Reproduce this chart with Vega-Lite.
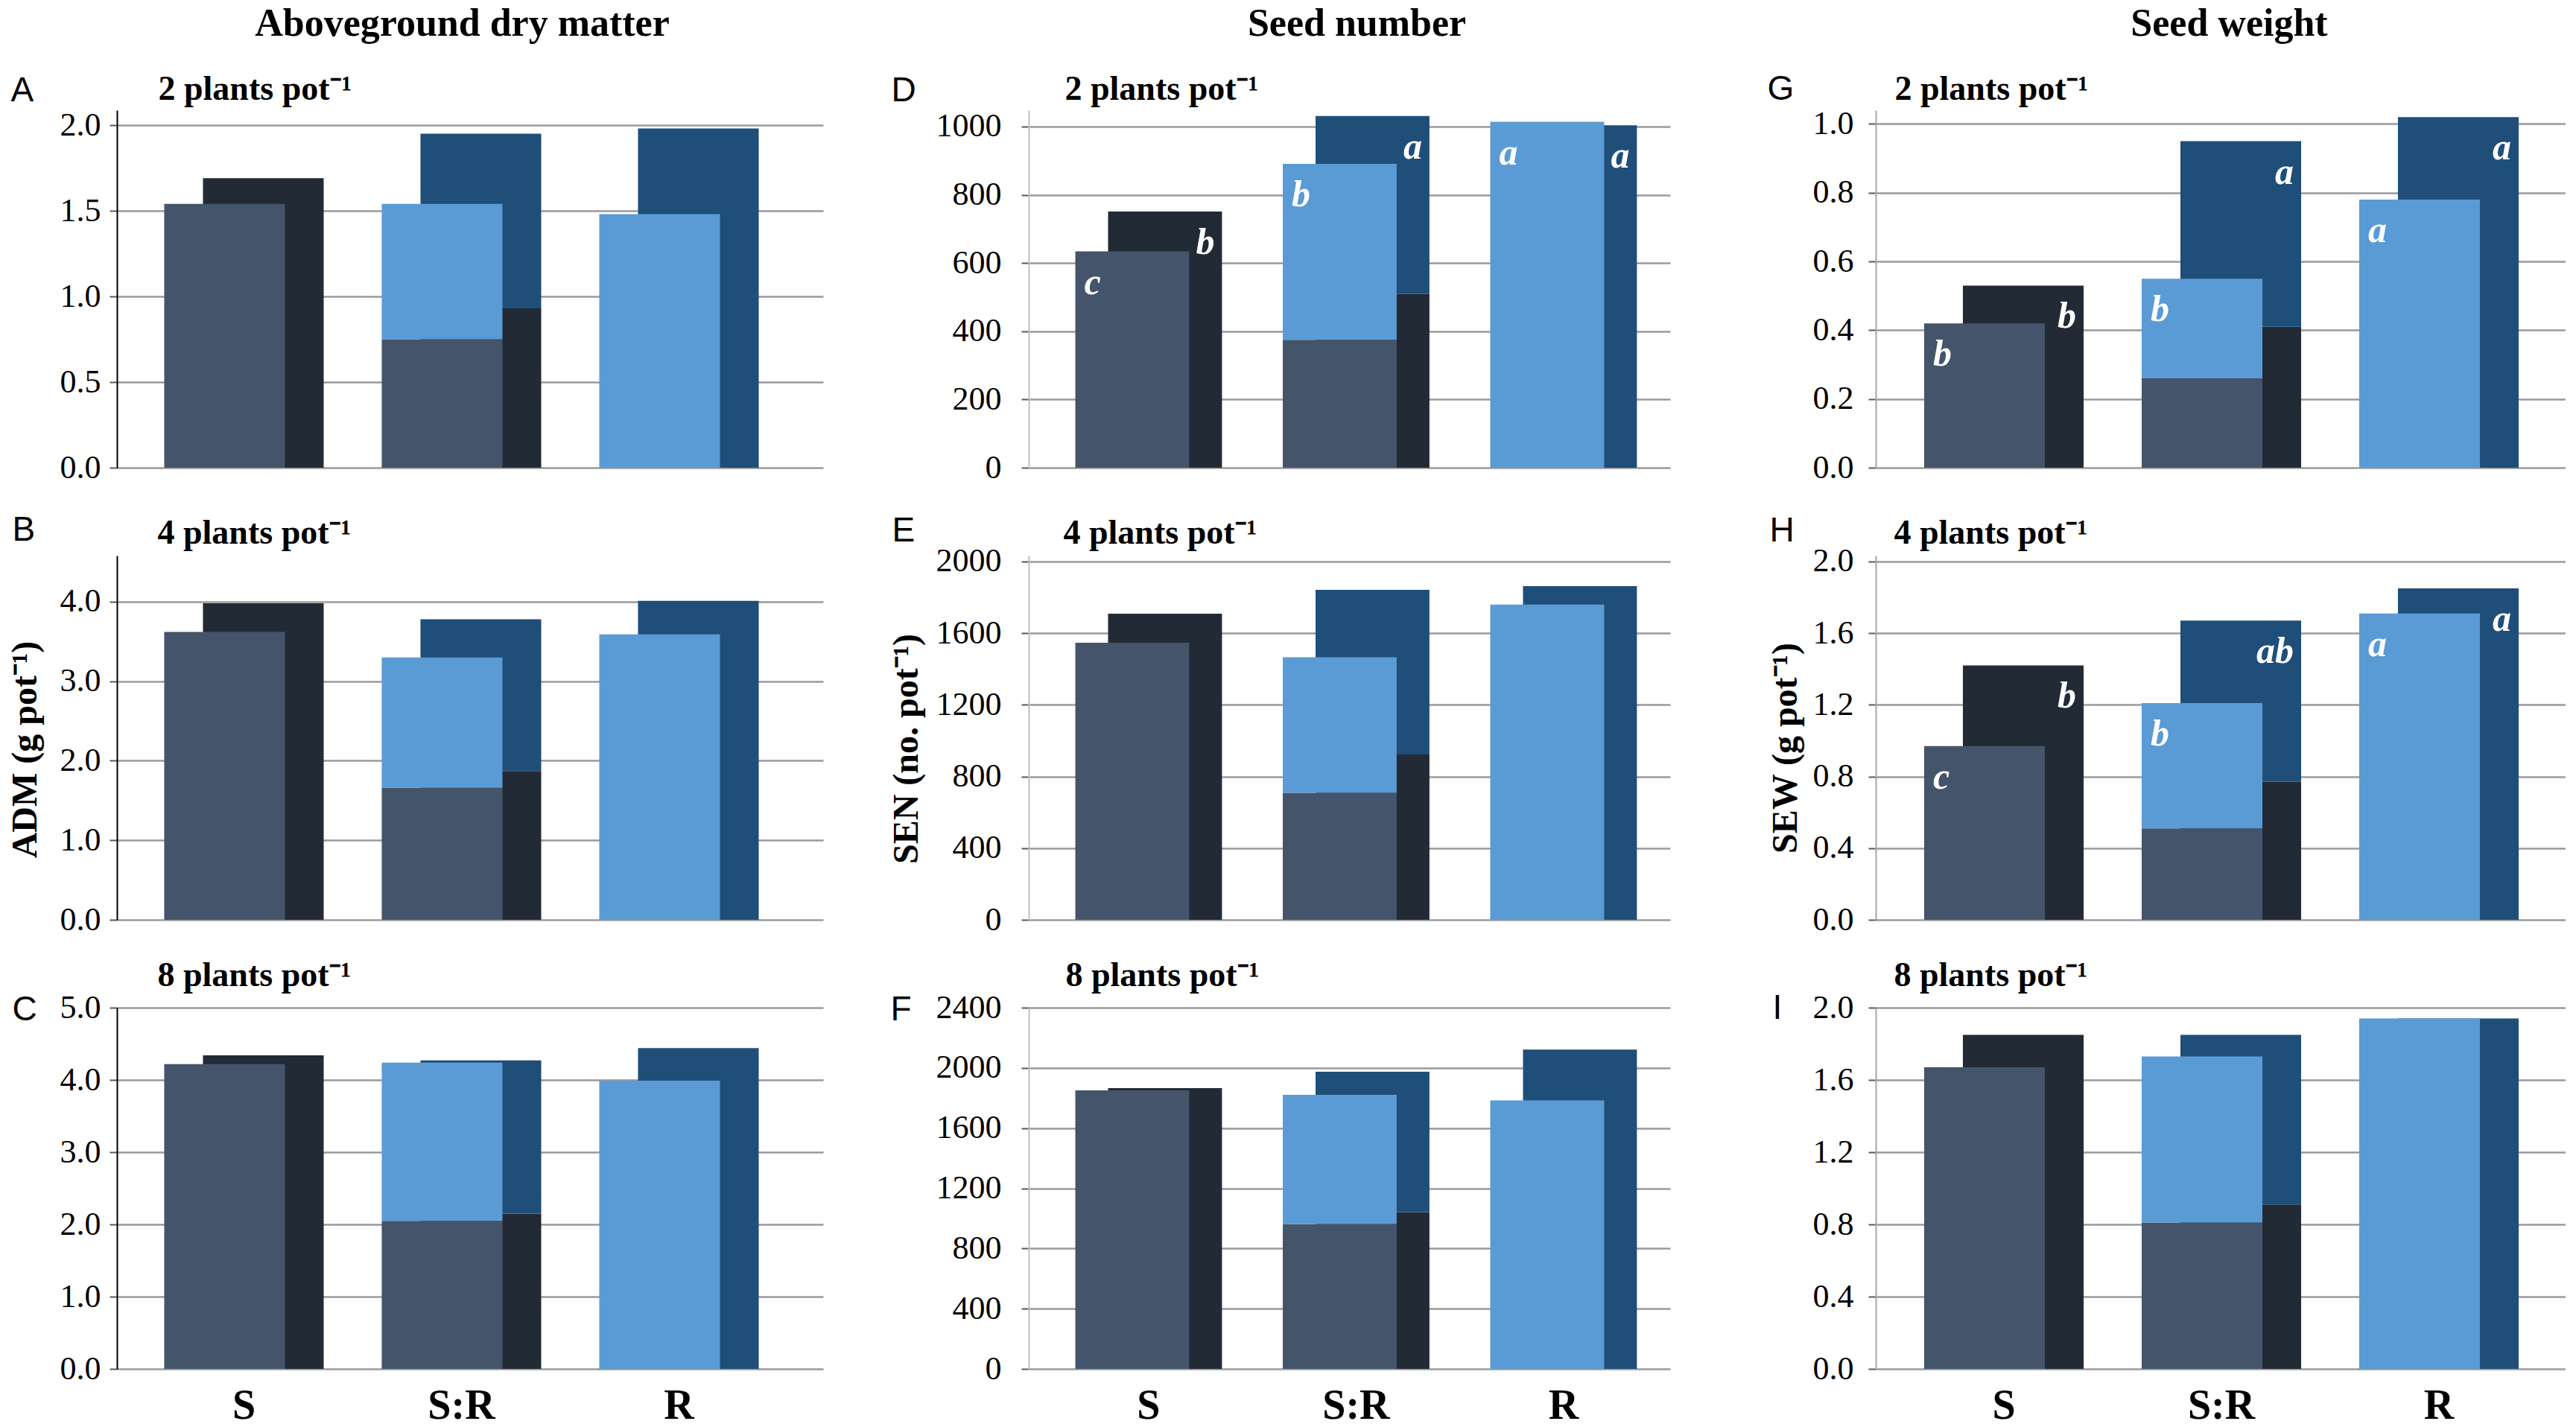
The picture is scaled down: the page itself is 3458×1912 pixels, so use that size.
{
  "$schema": "https://vega.github.io/schema/vega-lite/v6.json",
  "background": "white",
  "padding": {"left": 9, "top": 5, "right": 0, "bottom": 0},
  "datasets": {
    "bars": [
      {"panel": "A", "group": "S", "series": "front", "part": "S", "value": 1.54},
      {"panel": "A", "group": "S", "series": "back", "part": "S", "value": 1.69},
      {"panel": "A", "group": "S:R", "series": "front", "part": "S", "value": 0.75},
      {"panel": "A", "group": "S:R", "series": "front", "part": "R", "value": 0.79},
      {"panel": "A", "group": "S:R", "series": "back", "part": "S", "value": 0.93},
      {"panel": "A", "group": "S:R", "series": "back", "part": "R", "value": 1.02},
      {"panel": "A", "group": "R", "series": "front", "part": "R", "value": 1.48},
      {"panel": "A", "group": "R", "series": "back", "part": "R", "value": 1.98},
      {"panel": "B", "group": "S", "series": "front", "part": "S", "value": 3.62},
      {"panel": "B", "group": "S", "series": "back", "part": "S", "value": 3.98},
      {"panel": "B", "group": "S:R", "series": "front", "part": "S", "value": 1.66},
      {"panel": "B", "group": "S:R", "series": "front", "part": "R", "value": 1.64},
      {"panel": "B", "group": "S:R", "series": "back", "part": "S", "value": 1.87},
      {"panel": "B", "group": "S:R", "series": "back", "part": "R", "value": 1.91},
      {"panel": "B", "group": "R", "series": "front", "part": "R", "value": 3.59},
      {"panel": "B", "group": "R", "series": "back", "part": "R", "value": 4.01},
      {"panel": "C", "group": "S", "series": "front", "part": "S", "value": 4.22},
      {"panel": "C", "group": "S", "series": "back", "part": "S", "value": 4.34},
      {"panel": "C", "group": "S:R", "series": "front", "part": "S", "value": 2.05},
      {"panel": "C", "group": "S:R", "series": "front", "part": "R", "value": 2.19},
      {"panel": "C", "group": "S:R", "series": "back", "part": "S", "value": 2.15},
      {"panel": "C", "group": "S:R", "series": "back", "part": "R", "value": 2.12},
      {"panel": "C", "group": "R", "series": "front", "part": "R", "value": 3.99},
      {"panel": "C", "group": "R", "series": "back", "part": "R", "value": 4.44},
      {"panel": "D", "group": "S", "series": "front", "part": "S", "value": 634},
      {"panel": "D", "group": "S", "series": "back", "part": "S", "value": 751},
      {"panel": "D", "group": "S:R", "series": "front", "part": "S", "value": 375},
      {"panel": "D", "group": "S:R", "series": "front", "part": "R", "value": 516},
      {"panel": "D", "group": "S:R", "series": "back", "part": "S", "value": 509},
      {"panel": "D", "group": "S:R", "series": "back", "part": "R", "value": 522},
      {"panel": "D", "group": "R", "series": "front", "part": "R", "value": 1014},
      {"panel": "D", "group": "R", "series": "back", "part": "R", "value": 1004},
      {"panel": "E", "group": "S", "series": "front", "part": "S", "value": 1547},
      {"panel": "E", "group": "S", "series": "back", "part": "S", "value": 1709},
      {"panel": "E", "group": "S:R", "series": "front", "part": "S", "value": 709},
      {"panel": "E", "group": "S:R", "series": "front", "part": "R", "value": 756},
      {"panel": "E", "group": "S:R", "series": "back", "part": "S", "value": 923},
      {"panel": "E", "group": "S:R", "series": "back", "part": "R", "value": 919},
      {"panel": "E", "group": "R", "series": "front", "part": "R", "value": 1760},
      {"panel": "E", "group": "R", "series": "back", "part": "R", "value": 1863},
      {"panel": "F", "group": "S", "series": "front", "part": "S", "value": 1851},
      {"panel": "F", "group": "S", "series": "back", "part": "S", "value": 1865},
      {"panel": "F", "group": "S:R", "series": "front", "part": "S", "value": 962},
      {"panel": "F", "group": "S:R", "series": "front", "part": "R", "value": 859},
      {"panel": "F", "group": "S:R", "series": "back", "part": "S", "value": 1042},
      {"panel": "F", "group": "S:R", "series": "back", "part": "R", "value": 933},
      {"panel": "F", "group": "R", "series": "front", "part": "R", "value": 1784},
      {"panel": "F", "group": "R", "series": "back", "part": "R", "value": 2122},
      {"panel": "G", "group": "S", "series": "front", "part": "S", "value": 0.42},
      {"panel": "G", "group": "S", "series": "back", "part": "S", "value": 0.53},
      {"panel": "G", "group": "S:R", "series": "front", "part": "S", "value": 0.26},
      {"panel": "G", "group": "S:R", "series": "front", "part": "R", "value": 0.29},
      {"panel": "G", "group": "S:R", "series": "back", "part": "S", "value": 0.41},
      {"panel": "G", "group": "S:R", "series": "back", "part": "R", "value": 0.54},
      {"panel": "G", "group": "R", "series": "front", "part": "R", "value": 0.78},
      {"panel": "G", "group": "R", "series": "back", "part": "R", "value": 1.02},
      {"panel": "H", "group": "S", "series": "front", "part": "S", "value": 0.97},
      {"panel": "H", "group": "S", "series": "back", "part": "S", "value": 1.42},
      {"panel": "H", "group": "S:R", "series": "front", "part": "S", "value": 0.51},
      {"panel": "H", "group": "S:R", "series": "front", "part": "R", "value": 0.70},
      {"panel": "H", "group": "S:R", "series": "back", "part": "S", "value": 0.77},
      {"panel": "H", "group": "S:R", "series": "back", "part": "R", "value": 0.90},
      {"panel": "H", "group": "R", "series": "front", "part": "R", "value": 1.71},
      {"panel": "H", "group": "R", "series": "back", "part": "R", "value": 1.85},
      {"panel": "I", "group": "S", "series": "front", "part": "S", "value": 1.67},
      {"panel": "I", "group": "S", "series": "back", "part": "S", "value": 1.85},
      {"panel": "I", "group": "S:R", "series": "front", "part": "S", "value": 0.81},
      {"panel": "I", "group": "S:R", "series": "front", "part": "R", "value": 0.92},
      {"panel": "I", "group": "S:R", "series": "back", "part": "S", "value": 0.91},
      {"panel": "I", "group": "S:R", "series": "back", "part": "R", "value": 0.94},
      {"panel": "I", "group": "R", "series": "front", "part": "R", "value": 1.94},
      {"panel": "I", "group": "R", "series": "back", "part": "R", "value": 1.94}
    ],
    "letters": [
      {"panel": "D", "group": "S", "series": "front", "top": 634, "letter": "c"},
      {"panel": "D", "group": "S", "series": "back", "top": 751, "letter": "b"},
      {"panel": "D", "group": "S:R", "series": "front", "top": 891, "letter": "b"},
      {"panel": "D", "group": "S:R", "series": "back", "top": 1031, "letter": "a"},
      {"panel": "D", "group": "R", "series": "front", "top": 1014, "letter": "a"},
      {"panel": "D", "group": "R", "series": "back", "top": 1004, "letter": "a"},
      {"panel": "G", "group": "S", "series": "front", "top": 0.42, "letter": "b"},
      {"panel": "G", "group": "S", "series": "back", "top": 0.53, "letter": "b"},
      {"panel": "G", "group": "S:R", "series": "front", "top": 0.55, "letter": "b"},
      {"panel": "G", "group": "S:R", "series": "back", "top": 0.95, "letter": "a"},
      {"panel": "G", "group": "R", "series": "front", "top": 0.78, "letter": "a"},
      {"panel": "G", "group": "R", "series": "back", "top": 1.02, "letter": "a"},
      {"panel": "H", "group": "S", "series": "front", "top": 0.97, "letter": "c"},
      {"panel": "H", "group": "S", "series": "back", "top": 1.42, "letter": "b"},
      {"panel": "H", "group": "S:R", "series": "front", "top": 1.21, "letter": "b"},
      {"panel": "H", "group": "S:R", "series": "back", "top": 1.67, "letter": "ab"},
      {"panel": "H", "group": "R", "series": "front", "top": 1.71, "letter": "a"},
      {"panel": "H", "group": "R", "series": "back", "top": 1.85, "letter": "a"}
    ]
  },
  "columns": 3,
  "spacing": {"row": 118, "column": 276},
  "bounds": "flush",
  "resolve": {"scale": {"x": "independent", "y": "independent"}, "axis": {"x": "independent", "y": "independent"}},
  "concat": [
    {
      "width": 948, "height": 480,
      "layer": [
        {
          "data": {"name": "bars"},
          "transform": [{"filter": "datum.panel === 'A' && datum.series === 'back'"}],
          "mark": {"type": "bar", "width": {"band": 0.555}, "xOffset": 26},
          "encoding": {
            "x": {"field": "group", "type": "nominal", "scale": {"type": "band", "domain": ["S", "S:R", "R"], "paddingInner": 0, "paddingOuter": 0.1233, "align": 0.34},
                  "axis": {"orient": "top", "title": "Aboveground dry matter", "labels": false, "ticks": false, "domain": false, "grid": false, "titleX": 463, "titleY": -101, "titleAlign": "center", "titleBaseline": "alphabetic", "titleFontSize": 52}},
            "y": {"field": "value", "type": "quantitative", "stack": "zero", "scale": {"domain": [0, 2.087], "nice": false},
                  "axis": {"orient": "left", "values": [0, 0.5, 1, 1.5, 2], "format": ".1f", "title": null, "grid": true, "domainColor": "#000000", "labelPadding": 12}},
            "detail": {"field": "part", "type": "nominal"},
            "order": {"field": "part", "type": "nominal", "sort": "descending"},
            "color": {"condition": {"test": "datum.part === 'S'", "value": "#222a35"}, "value": "#1f4e79"}
          }
        },
        {
          "data": {"name": "bars"},
          "transform": [{"filter": "datum.panel === 'A' && datum.series === 'front'"}],
          "mark": {"type": "bar", "width": {"band": 0.555}, "xOffset": -26},
          "encoding": {
            "x": {"field": "group", "type": "nominal", "scale": {"type": "band"},
                  "axis": {"orient": "top", "title": "2 plants pot⁻¹", "labels": false, "ticks": false, "domain": false, "grid": false, "titleX": 55, "titleY": -15, "titleAlign": "left", "titleBaseline": "alphabetic", "titleFontSize": 46}},
            "y": {"field": "value", "type": "quantitative", "stack": "zero",
                  "axis": {"orient": "left", "title": "A", "labels": false, "ticks": false, "domain": false, "grid": false, "titleAngle": 0, "titleX": -143, "titleY": -13, "titleAlign": "left", "titleBaseline": "alphabetic", "titleFont": "Liberation Sans", "titleFontWeight": "normal", "titleFontSize": 46}},
            "detail": {"field": "part", "type": "nominal"},
            "order": {"field": "part", "type": "nominal", "sort": "descending"},
            "color": {"condition": {"test": "datum.part === 'S'", "value": "#44546a"}, "value": "#5b9bd5"}
          }
        }
      ],
      "resolve": {"axis": {"x": "independent", "y": "independent"}}
    },
    {
      "width": 861, "height": 480,
      "layer": [
        {
          "data": {"name": "bars"},
          "transform": [{"filter": "datum.panel === 'D' && datum.series === 'back'"}],
          "mark": {"type": "bar", "width": {"band": 0.549}, "xOffset": 22},
          "encoding": {
            "x": {"field": "group", "type": "nominal", "scale": {"type": "band", "domain": ["S", "S:R", "R"], "paddingInner": 0, "paddingOuter": 0.0458, "align": 0.85},
                  "axis": {"orient": "top", "title": "Seed number", "labels": false, "ticks": false, "domain": false, "grid": false, "titleX": 440, "titleY": -101, "titleAlign": "center", "titleBaseline": "alphabetic", "titleFontSize": 52}},
            "y": {"field": "value", "type": "quantitative", "stack": "zero", "scale": {"domain": [0, 1048], "nice": false},
                  "axis": {"orient": "left", "values": [0, 200, 400, 600, 800, 1000], "format": "d", "title": null, "grid": true, "domainColor": "#c0c0c0", "labelPadding": 27}},
            "detail": {"field": "part", "type": "nominal"},
            "order": {"field": "part", "type": "nominal", "sort": "descending"},
            "color": {"condition": {"test": "datum.part === 'S'", "value": "#222a35"}, "value": "#1f4e79"}
          }
        },
        {
          "data": {"name": "bars"},
          "transform": [{"filter": "datum.panel === 'D' && datum.series === 'front'"}],
          "mark": {"type": "bar", "width": {"band": 0.549}, "xOffset": -22},
          "encoding": {
            "x": {"field": "group", "type": "nominal", "scale": {"type": "band"},
                  "axis": {"orient": "top", "title": "2 plants pot⁻¹", "labels": false, "ticks": false, "domain": false, "grid": false, "titleX": 48, "titleY": -15, "titleAlign": "left", "titleBaseline": "alphabetic", "titleFontSize": 46}},
            "y": {"field": "value", "type": "quantitative", "stack": "zero",
                  "axis": {"orient": "left", "title": "D", "labels": false, "ticks": false, "domain": false, "grid": false, "titleAngle": 0, "titleX": -185, "titleY": -13, "titleAlign": "left", "titleBaseline": "alphabetic", "titleFont": "Liberation Sans", "titleFontWeight": "normal", "titleFontSize": 46}},
            "detail": {"field": "part", "type": "nominal"},
            "order": {"field": "part", "type": "nominal", "sort": "descending"},
            "color": {"condition": {"test": "datum.part === 'S'", "value": "#44546a"}, "value": "#5b9bd5"}
          }
        },
        {
          "data": {"name": "letters"},
          "transform": [{"filter": "datum.panel === 'D' && datum.series === 'front'"}],
          "mark": {"type": "text", "align": "left", "baseline": "middle", "dy": 42, "xOffset": -86.5, "font": "Liberation Serif", "fontStyle": "italic", "fontWeight": "bold", "fontSize": 50, "color": "#ffffff"},
          "encoding": {
            "x": {"field": "group", "type": "nominal", "scale": {"type": "band"}, "axis": null},
            "y": {"field": "top", "type": "quantitative", "axis": null},
            "text": {"field": "letter"}
          }
        },
        {
          "data": {"name": "letters"},
          "transform": [{"filter": "datum.panel === 'D' && datum.series === 'back'"}],
          "mark": {"type": "text", "align": "right", "baseline": "middle", "dy": 42, "xOffset": 88.5, "font": "Liberation Serif", "fontStyle": "italic", "fontWeight": "bold", "fontSize": 50, "color": "#ffffff"},
          "encoding": {
            "x": {"field": "group", "type": "nominal", "scale": {"type": "band"}, "axis": null},
            "y": {"field": "top", "type": "quantitative", "axis": null},
            "text": {"field": "letter"}
          }
        }
      ],
      "resolve": {"axis": {"x": "independent", "y": "independent"}}
    },
    {
      "width": 926, "height": 480,
      "layer": [
        {
          "data": {"name": "bars"},
          "transform": [{"filter": "datum.panel === 'G' && datum.series === 'back'"}],
          "mark": {"type": "bar", "width": {"band": 0.555}, "xOffset": 26},
          "encoding": {
            "x": {"field": "group", "type": "nominal", "scale": {"type": "band", "domain": ["S", "S:R", "R"], "paddingInner": 0, "paddingOuter": 0.0856, "align": 0.52},
                  "axis": {"orient": "top", "title": "Seed weight", "labels": false, "ticks": false, "domain": false, "grid": false, "titleX": 474, "titleY": -101, "titleAlign": "center", "titleBaseline": "alphabetic", "titleFontSize": 52}},
            "y": {"field": "value", "type": "quantitative", "stack": "zero", "scale": {"domain": [0, 1.04], "nice": false},
                  "axis": {"orient": "left", "values": [0, 0.2, 0.4, 0.6, 0.8, 1.0], "format": ".1f", "title": null, "grid": true, "domainColor": "#a6a6a6", "labelPadding": 20}},
            "detail": {"field": "part", "type": "nominal"},
            "order": {"field": "part", "type": "nominal", "sort": "descending"},
            "color": {"condition": {"test": "datum.part === 'S'", "value": "#222a35"}, "value": "#1f4e79"}
          }
        },
        {
          "data": {"name": "bars"},
          "transform": [{"filter": "datum.panel === 'G' && datum.series === 'front'"}],
          "mark": {"type": "bar", "width": {"band": 0.555}, "xOffset": -26},
          "encoding": {
            "x": {"field": "group", "type": "nominal", "scale": {"type": "band"},
                  "axis": {"orient": "top", "title": "2 plants pot⁻¹", "labels": false, "ticks": false, "domain": false, "grid": false, "titleX": 25, "titleY": -15, "titleAlign": "left", "titleBaseline": "alphabetic", "titleFontSize": 46}},
            "y": {"field": "value", "type": "quantitative", "stack": "zero",
                  "axis": {"orient": "left", "title": "G", "labels": false, "ticks": false, "domain": false, "grid": false, "titleAngle": 0, "titleX": -146, "titleY": -15, "titleAlign": "left", "titleBaseline": "alphabetic", "titleFont": "Liberation Sans", "titleFontWeight": "normal", "titleFontSize": 46}},
            "detail": {"field": "part", "type": "nominal"},
            "order": {"field": "part", "type": "nominal", "sort": "descending"},
            "color": {"condition": {"test": "datum.part === 'S'", "value": "#44546a"}, "value": "#5b9bd5"}
          }
        },
        {
          "data": {"name": "letters"},
          "transform": [{"filter": "datum.panel === 'G' && datum.series === 'front'"}],
          "mark": {"type": "text", "align": "left", "baseline": "middle", "dy": 42, "xOffset": -95, "font": "Liberation Serif", "fontStyle": "italic", "fontWeight": "bold", "fontSize": 50, "color": "#ffffff"},
          "encoding": {
            "x": {"field": "group", "type": "nominal", "scale": {"type": "band"}, "axis": null},
            "y": {"field": "top", "type": "quantitative", "axis": null},
            "text": {"field": "letter"}
          }
        },
        {
          "data": {"name": "letters"},
          "transform": [{"filter": "datum.panel === 'G' && datum.series === 'back'"}],
          "mark": {"type": "text", "align": "right", "baseline": "middle", "dy": 42, "xOffset": 97, "font": "Liberation Serif", "fontStyle": "italic", "fontWeight": "bold", "fontSize": 50, "color": "#ffffff"},
          "encoding": {
            "x": {"field": "group", "type": "nominal", "scale": {"type": "band"}, "axis": null},
            "y": {"field": "top", "type": "quantitative", "axis": null},
            "text": {"field": "letter"}
          }
        }
      ],
      "resolve": {"axis": {"x": "independent", "y": "independent"}}
    },
    {
      "width": 948, "height": 489,
      "layer": [
        {
          "data": {"name": "bars"},
          "transform": [{"filter": "datum.panel === 'B' && datum.series === 'back'"}],
          "mark": {"type": "bar", "width": {"band": 0.555}, "xOffset": 26},
          "encoding": {
            "x": {"field": "group", "type": "nominal", "scale": {"type": "band", "domain": ["S", "S:R", "R"], "paddingInner": 0, "paddingOuter": 0.1233, "align": 0.34}, "axis": null},
            "y": {"field": "value", "type": "quantitative", "stack": "zero", "scale": {"domain": [0, 4.58], "nice": false},
                  "axis": {"orient": "left", "values": [0, 1, 2, 3, 4], "format": ".1f", "title": "ADM (g pot⁻¹)", "grid": true, "domainColor": "#000000", "labelPadding": 12, "titleAngle": -90, "titleX": -123, "titleY": 260, "titleAlign": "center", "titleBaseline": "middle", "titleFontSize": 48}},
            "detail": {"field": "part", "type": "nominal"},
            "order": {"field": "part", "type": "nominal", "sort": "descending"},
            "color": {"condition": {"test": "datum.part === 'S'", "value": "#222a35"}, "value": "#1f4e79"}
          }
        },
        {
          "data": {"name": "bars"},
          "transform": [{"filter": "datum.panel === 'B' && datum.series === 'front'"}],
          "mark": {"type": "bar", "width": {"band": 0.555}, "xOffset": -26},
          "encoding": {
            "x": {"field": "group", "type": "nominal", "scale": {"type": "band"},
                  "axis": {"orient": "top", "title": "4 plants pot⁻¹", "labels": false, "ticks": false, "domain": false, "grid": false, "titleX": 54, "titleY": -17, "titleAlign": "left", "titleBaseline": "alphabetic", "titleFontSize": 46}},
            "y": {"field": "value", "type": "quantitative", "stack": "zero",
                  "axis": {"orient": "left", "title": "B", "labels": false, "ticks": false, "domain": false, "grid": false, "titleAngle": 0, "titleX": -141, "titleY": -21, "titleAlign": "left", "titleBaseline": "alphabetic", "titleFont": "Liberation Sans", "titleFontWeight": "normal", "titleFontSize": 46}},
            "detail": {"field": "part", "type": "nominal"},
            "order": {"field": "part", "type": "nominal", "sort": "descending"},
            "color": {"condition": {"test": "datum.part === 'S'", "value": "#44546a"}, "value": "#5b9bd5"}
          }
        }
      ],
      "resolve": {"axis": {"x": "independent", "y": "independent"}}
    },
    {
      "width": 861, "height": 489,
      "layer": [
        {
          "data": {"name": "bars"},
          "transform": [{"filter": "datum.panel === 'E' && datum.series === 'back'"}],
          "mark": {"type": "bar", "width": {"band": 0.549}, "xOffset": 22},
          "encoding": {
            "x": {"field": "group", "type": "nominal", "scale": {"type": "band", "domain": ["S", "S:R", "R"], "paddingInner": 0, "paddingOuter": 0.0458, "align": 0.85}, "axis": null},
            "y": {"field": "value", "type": "quantitative", "stack": "zero", "scale": {"domain": [0, 2033], "nice": false},
                  "axis": {"orient": "left", "values": [0, 400, 800, 1200, 1600, 2000], "format": "d", "title": "SEN (no. pot⁻¹)", "grid": true, "domainColor": "#c0c0c0", "labelPadding": 27, "titleAngle": -90, "titleX": -164, "titleY": 259, "titleAlign": "center", "titleBaseline": "middle", "titleFontSize": 48}},
            "detail": {"field": "part", "type": "nominal"},
            "order": {"field": "part", "type": "nominal", "sort": "descending"},
            "color": {"condition": {"test": "datum.part === 'S'", "value": "#222a35"}, "value": "#1f4e79"}
          }
        },
        {
          "data": {"name": "bars"},
          "transform": [{"filter": "datum.panel === 'E' && datum.series === 'front'"}],
          "mark": {"type": "bar", "width": {"band": 0.549}, "xOffset": -22},
          "encoding": {
            "x": {"field": "group", "type": "nominal", "scale": {"type": "band"},
                  "axis": {"orient": "top", "title": "4 plants pot⁻¹", "labels": false, "ticks": false, "domain": false, "grid": false, "titleX": 46, "titleY": -17, "titleAlign": "left", "titleBaseline": "alphabetic", "titleFontSize": 46}},
            "y": {"field": "value", "type": "quantitative", "stack": "zero",
                  "axis": {"orient": "left", "title": "E", "labels": false, "ticks": false, "domain": false, "grid": false, "titleAngle": 0, "titleX": -184, "titleY": -20, "titleAlign": "left", "titleBaseline": "alphabetic", "titleFont": "Liberation Sans", "titleFontWeight": "normal", "titleFontSize": 46}},
            "detail": {"field": "part", "type": "nominal"},
            "order": {"field": "part", "type": "nominal", "sort": "descending"},
            "color": {"condition": {"test": "datum.part === 'S'", "value": "#44546a"}, "value": "#5b9bd5"}
          }
        }
      ],
      "resolve": {"axis": {"x": "independent", "y": "independent"}}
    },
    {
      "width": 926, "height": 489,
      "layer": [
        {
          "data": {"name": "bars"},
          "transform": [{"filter": "datum.panel === 'H' && datum.series === 'back'"}],
          "mark": {"type": "bar", "width": {"band": 0.555}, "xOffset": 26},
          "encoding": {
            "x": {"field": "group", "type": "nominal", "scale": {"type": "band", "domain": ["S", "S:R", "R"], "paddingInner": 0, "paddingOuter": 0.0856, "align": 0.52}, "axis": null},
            "y": {"field": "value", "type": "quantitative", "stack": "zero", "scale": {"domain": [0, 2.033], "nice": false},
                  "axis": {"orient": "left", "values": [0, 0.4, 0.8, 1.2, 1.6, 2.0], "format": ".1f", "title": "SEW (g pot⁻¹)", "grid": true, "domainColor": "#a6a6a6", "labelPadding": 20, "titleAngle": -90, "titleX": -121, "titleY": 258, "titleAlign": "center", "titleBaseline": "middle", "titleFontSize": 48}},
            "detail": {"field": "part", "type": "nominal"},
            "order": {"field": "part", "type": "nominal", "sort": "descending"},
            "color": {"condition": {"test": "datum.part === 'S'", "value": "#222a35"}, "value": "#1f4e79"}
          }
        },
        {
          "data": {"name": "bars"},
          "transform": [{"filter": "datum.panel === 'H' && datum.series === 'front'"}],
          "mark": {"type": "bar", "width": {"band": 0.555}, "xOffset": -26},
          "encoding": {
            "x": {"field": "group", "type": "nominal", "scale": {"type": "band"},
                  "axis": {"orient": "top", "title": "4 plants pot⁻¹", "labels": false, "ticks": false, "domain": false, "grid": false, "titleX": 24, "titleY": -17, "titleAlign": "left", "titleBaseline": "alphabetic", "titleFontSize": 46}},
            "y": {"field": "value", "type": "quantitative", "stack": "zero",
                  "axis": {"orient": "left", "title": "H", "labels": false, "ticks": false, "domain": false, "grid": false, "titleAngle": 0, "titleX": -143, "titleY": -20, "titleAlign": "left", "titleBaseline": "alphabetic", "titleFont": "Liberation Sans", "titleFontWeight": "normal", "titleFontSize": 46}},
            "detail": {"field": "part", "type": "nominal"},
            "order": {"field": "part", "type": "nominal", "sort": "descending"},
            "color": {"condition": {"test": "datum.part === 'S'", "value": "#44546a"}, "value": "#5b9bd5"}
          }
        },
        {
          "data": {"name": "letters"},
          "transform": [{"filter": "datum.panel === 'H' && datum.series === 'front'"}],
          "mark": {"type": "text", "align": "left", "baseline": "middle", "dy": 42, "xOffset": -95, "font": "Liberation Serif", "fontStyle": "italic", "fontWeight": "bold", "fontSize": 50, "color": "#ffffff"},
          "encoding": {
            "x": {"field": "group", "type": "nominal", "scale": {"type": "band"}, "axis": null},
            "y": {"field": "top", "type": "quantitative", "axis": null},
            "text": {"field": "letter"}
          }
        },
        {
          "data": {"name": "letters"},
          "transform": [{"filter": "datum.panel === 'H' && datum.series === 'back'"}],
          "mark": {"type": "text", "align": "right", "baseline": "middle", "dy": 42, "xOffset": 97, "font": "Liberation Serif", "fontStyle": "italic", "fontWeight": "bold", "fontSize": 50, "color": "#ffffff"},
          "encoding": {
            "x": {"field": "group", "type": "nominal", "scale": {"type": "band"}, "axis": null},
            "y": {"field": "top", "type": "quantitative", "axis": null},
            "text": {"field": "letter"}
          }
        }
      ],
      "resolve": {"axis": {"x": "independent", "y": "independent"}}
    },
    {
      "width": 948, "height": 485,
      "layer": [
        {
          "data": {"name": "bars"},
          "transform": [{"filter": "datum.panel === 'C' && datum.series === 'back'"}],
          "mark": {"type": "bar", "width": {"band": 0.555}, "xOffset": 26},
          "encoding": {
            "x": {"field": "group", "type": "nominal", "scale": {"type": "band", "domain": ["S", "S:R", "R"], "paddingInner": 0, "paddingOuter": 0.1233, "align": 0.34},
                  "axis": {"orient": "bottom", "title": null, "ticks": false, "tickSize": 0, "domain": false, "grid": false, "labelAngle": 0, "labelFontWeight": "bold", "labelFontSize": 56, "labelPadding": 66, "labelBaseline": "alphabetic"}},
            "y": {"field": "value", "type": "quantitative", "stack": "zero", "scale": {"domain": [0, 5], "nice": false},
                  "axis": {"orient": "left", "values": [0, 1, 2, 3, 4, 5], "format": ".1f", "title": null, "grid": true, "domainColor": "#000000", "labelPadding": 12}},
            "detail": {"field": "part", "type": "nominal"},
            "order": {"field": "part", "type": "nominal", "sort": "descending"},
            "color": {"condition": {"test": "datum.part === 'S'", "value": "#222a35"}, "value": "#1f4e79"}
          }
        },
        {
          "data": {"name": "bars"},
          "transform": [{"filter": "datum.panel === 'C' && datum.series === 'front'"}],
          "mark": {"type": "bar", "width": {"band": 0.555}, "xOffset": -26},
          "encoding": {
            "x": {"field": "group", "type": "nominal", "scale": {"type": "band"},
                  "axis": {"orient": "top", "title": "8 plants pot⁻¹", "labels": false, "ticks": false, "domain": false, "grid": false, "titleX": 54, "titleY": -30, "titleAlign": "left", "titleBaseline": "alphabetic", "titleFontSize": 46}},
            "y": {"field": "value", "type": "quantitative", "stack": "zero",
                  "axis": {"orient": "left", "title": "C", "labels": false, "ticks": false, "domain": false, "grid": false, "titleAngle": 0, "titleX": -141, "titleY": 16, "titleAlign": "left", "titleBaseline": "alphabetic", "titleFont": "Liberation Sans", "titleFontWeight": "normal", "titleFontSize": 46}},
            "detail": {"field": "part", "type": "nominal"},
            "order": {"field": "part", "type": "nominal", "sort": "descending"},
            "color": {"condition": {"test": "datum.part === 'S'", "value": "#44546a"}, "value": "#5b9bd5"}
          }
        }
      ],
      "resolve": {"axis": {"x": "independent", "y": "independent"}}
    },
    {
      "width": 861, "height": 485,
      "layer": [
        {
          "data": {"name": "bars"},
          "transform": [{"filter": "datum.panel === 'F' && datum.series === 'back'"}],
          "mark": {"type": "bar", "width": {"band": 0.549}, "xOffset": 22},
          "encoding": {
            "x": {"field": "group", "type": "nominal", "scale": {"type": "band", "domain": ["S", "S:R", "R"], "paddingInner": 0, "paddingOuter": 0.0458, "align": 0.85},
                  "axis": {"orient": "bottom", "title": null, "ticks": false, "tickSize": 0, "domain": false, "grid": false, "labelAngle": 0, "labelFontWeight": "bold", "labelFontSize": 56, "labelPadding": 66, "labelBaseline": "alphabetic"}},
            "y": {"field": "value", "type": "quantitative", "stack": "zero", "scale": {"domain": [0, 2400], "nice": false},
                  "axis": {"orient": "left", "values": [0, 400, 800, 1200, 1600, 2000, 2400], "format": "d", "title": null, "grid": true, "domainColor": "#c0c0c0", "labelPadding": 27}},
            "detail": {"field": "part", "type": "nominal"},
            "order": {"field": "part", "type": "nominal", "sort": "descending"},
            "color": {"condition": {"test": "datum.part === 'S'", "value": "#222a35"}, "value": "#1f4e79"}
          }
        },
        {
          "data": {"name": "bars"},
          "transform": [{"filter": "datum.panel === 'F' && datum.series === 'front'"}],
          "mark": {"type": "bar", "width": {"band": 0.549}, "xOffset": -22},
          "encoding": {
            "x": {"field": "group", "type": "nominal", "scale": {"type": "band"},
                  "axis": {"orient": "top", "title": "8 plants pot⁻¹", "labels": false, "ticks": false, "domain": false, "grid": false, "titleX": 49, "titleY": -30, "titleAlign": "left", "titleBaseline": "alphabetic", "titleFontSize": 46}},
            "y": {"field": "value", "type": "quantitative", "stack": "zero",
                  "axis": {"orient": "left", "title": "F", "labels": false, "ticks": false, "domain": false, "grid": false, "titleAngle": 0, "titleX": -186, "titleY": 16, "titleAlign": "left", "titleBaseline": "alphabetic", "titleFont": "Liberation Sans", "titleFontWeight": "normal", "titleFontSize": 46}},
            "detail": {"field": "part", "type": "nominal"},
            "order": {"field": "part", "type": "nominal", "sort": "descending"},
            "color": {"condition": {"test": "datum.part === 'S'", "value": "#44546a"}, "value": "#5b9bd5"}
          }
        }
      ],
      "resolve": {"axis": {"x": "independent", "y": "independent"}}
    },
    {
      "width": 926, "height": 485,
      "layer": [
        {
          "data": {"name": "bars"},
          "transform": [{"filter": "datum.panel === 'I' && datum.series === 'back'"}],
          "mark": {"type": "bar", "width": {"band": 0.555}, "xOffset": 26},
          "encoding": {
            "x": {"field": "group", "type": "nominal", "scale": {"type": "band", "domain": ["S", "S:R", "R"], "paddingInner": 0, "paddingOuter": 0.0856, "align": 0.52},
                  "axis": {"orient": "bottom", "title": null, "ticks": false, "tickSize": 0, "domain": false, "grid": false, "labelAngle": 0, "labelFontWeight": "bold", "labelFontSize": 56, "labelPadding": 66, "labelBaseline": "alphabetic"}},
            "y": {"field": "value", "type": "quantitative", "stack": "zero", "scale": {"domain": [0, 2.0], "nice": false},
                  "axis": {"orient": "left", "values": [0, 0.4, 0.8, 1.2, 1.6, 2.0], "format": ".1f", "title": null, "grid": true, "domainColor": "#a6a6a6", "labelPadding": 20}},
            "detail": {"field": "part", "type": "nominal"},
            "order": {"field": "part", "type": "nominal", "sort": "descending"},
            "color": {"condition": {"test": "datum.part === 'S'", "value": "#222a35"}, "value": "#1f4e79"}
          }
        },
        {
          "data": {"name": "bars"},
          "transform": [{"filter": "datum.panel === 'I' && datum.series === 'front'"}],
          "mark": {"type": "bar", "width": {"band": 0.555}, "xOffset": -26},
          "encoding": {
            "x": {"field": "group", "type": "nominal", "scale": {"type": "band"},
                  "axis": {"orient": "top", "title": "8 plants pot⁻¹", "labels": false, "ticks": false, "domain": false, "grid": false, "titleX": 24, "titleY": -30, "titleAlign": "left", "titleBaseline": "alphabetic", "titleFontSize": 46}},
            "y": {"field": "value", "type": "quantitative", "stack": "zero",
                  "axis": {"orient": "left", "title": "I", "labels": false, "ticks": false, "domain": false, "grid": false, "titleAngle": 0, "titleX": -139, "titleY": 14, "titleAlign": "left", "titleBaseline": "alphabetic", "titleFont": "Liberation Sans", "titleFontWeight": "normal", "titleFontSize": 46}},
            "detail": {"field": "part", "type": "nominal"},
            "order": {"field": "part", "type": "nominal", "sort": "descending"},
            "color": {"condition": {"test": "datum.part === 'S'", "value": "#44546a"}, "value": "#5b9bd5"}
          }
        }
      ],
      "resolve": {"axis": {"x": "independent", "y": "independent"}}
    }
  ],
  "config": {
    "view": {"stroke": null},
    "axis": {
      "labelFont": "Liberation Serif",
      "labelFontSize": 44,
      "labelColor": "#000000",
      "titleFont": "Liberation Serif",
      "titleFontWeight": "bold",
      "titleColor": "#000000",
      "gridColor": "#9a9a9a",
      "gridWidth": 2.5,
      "tickColor": "#595959",
      "tickWidth": 2,
      "tickSize": 10,
      "domainWidth": 2
    },
    "axisY": {"labelFont": "Liberation Serif", "labelFontSize": 44},
    "axisX": {"labelFont": "Liberation Serif"}
  }
}
